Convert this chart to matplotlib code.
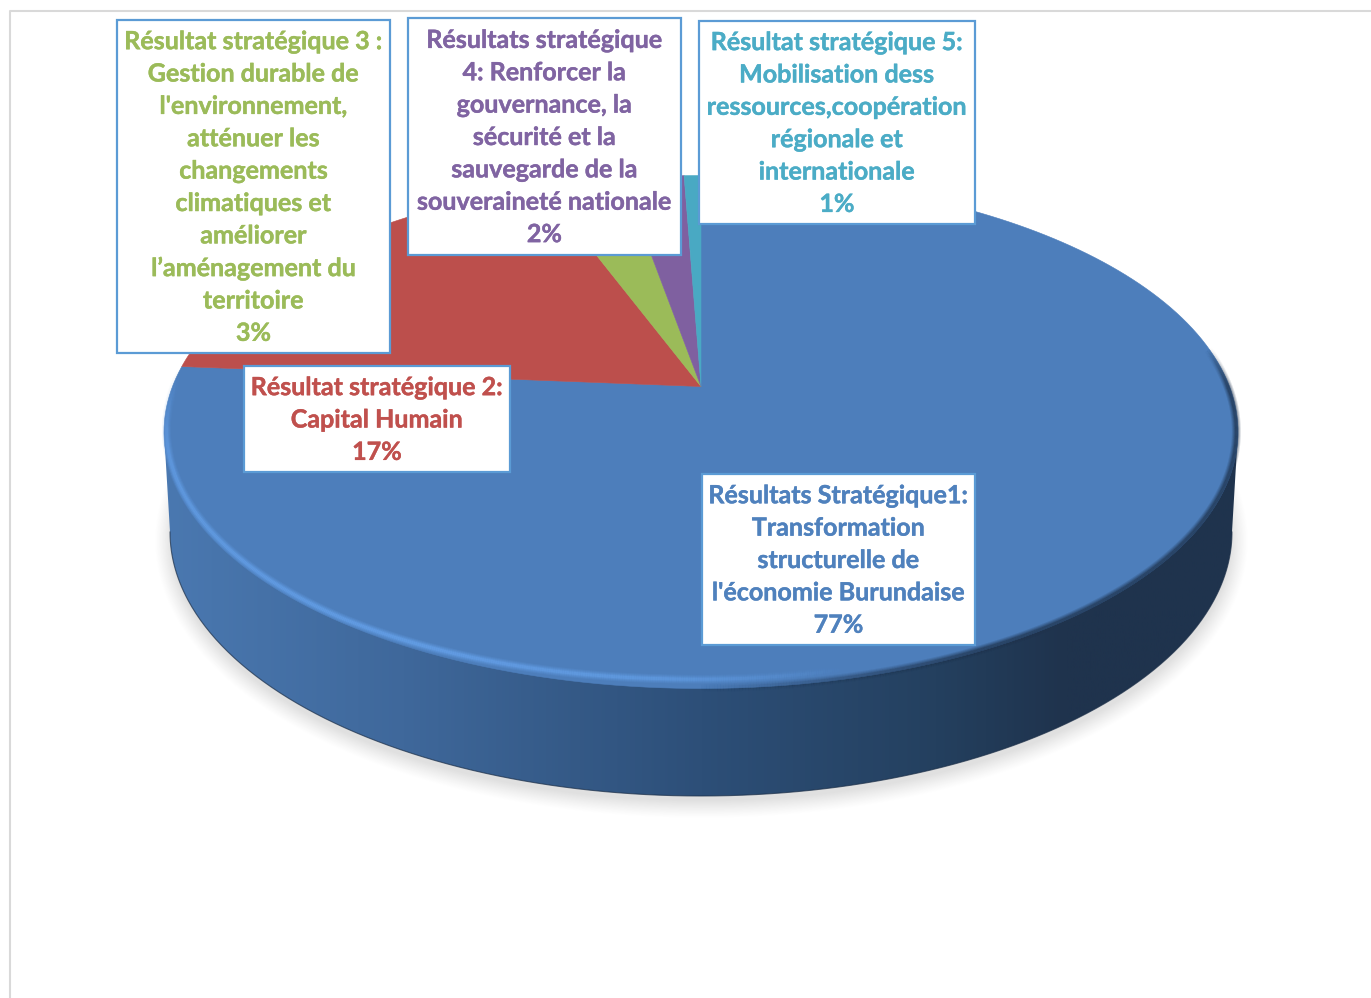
import numpy as np
import matplotlib
matplotlib.use("Agg")
import matplotlib.pyplot as plt
import matplotlib.patheffects as pe
from matplotlib.collections import LineCollection
from matplotlib.colors import LinearSegmentedColormap, to_rgb
from matplotlib.patches import Polygon, Rectangle

# Data, clockwise from 12 o'clock (slice sizes as measured on the picture)
names = ["Résultats Stratégique1", "Résultat stratégique 2", "Résultat stratégique 3",
         "Résultats stratégique 4", "Résultat stratégique 5"]
shares = [76.3, 18.0, 2.9, 2.2, 0.6]
colors = ["#4d7ebb", "#bc4f4c", "#9bbb59", "#7f60a0", "#49a9c3"]
labels = [
    "Résultats Stratégique1:\nTransformation\nstructurelle de\nl'économie Burundaise\n77%",
    "Résultat stratégique 2:\nCapital Humain\n17%",
    "Résultat stratégique 3 :\nGestion durable de\nl'environnement,\natténuer les\nchangements\nclimatiques et\naméliorer\nl’aménagement du\nterritoire\n3%",
    "Résultats stratégique\n4: Renforcer la\ngouvernance, la\nsécurité et la\nsauvegarde de la\nsouveraineté nationale\n2%",
    "Résultat stratégique 5:\nMobilisation dess\nressources,coopération\nrégionale et\ninternationale\n1%",
]
text_colors = ["#4f81bd", "#c0504d", "#9bbb59", "#8064a2", "#4bacc6"]
# label boxes: left, top, right, bottom in pixels
boxes = [(702, 474, 975, 645), (244, 366, 510, 472), (117, 20, 390, 353),
         (408, 18, 681, 255), (699, 21, 975, 224)]

# Pie geometry in pixels, the disc is tilted so its apex sits above the ellipse centre
apex_x, apex_y = 701, 386.5
big_a, big_b, persp = 528.5, 248.4, 0.1774
bot_x, bot_y, bot_a, bot_b = 701, 532, 531, 264


def disc(theta, r=1.0):
    # theta clockwise from the top of the disc, in radians
    u = r * np.sin(theta)
    v = -r * np.cos(theta)
    w = 1 - persp * v
    return apex_x + big_a * u / w, apex_y + big_b * v / w


def soft_line(x, y, rgb, alpha, zorder):
    # stacked strokes stand in for the blur on the bevel
    segs = np.stack([np.column_stack([x[:-1], y[:-1]]), np.column_stack([x[1:], y[1:]])], axis=1)
    for width, k in [(9, 0.16), (7, 0.22), (5, 0.3), (3, 0.45)]:
        cols = np.zeros((len(segs), 4))
        cols[:, :3] = rgb
        cols[:, 3] = alpha[:-1] * k
        ax.add_collection(LineCollection(segs, colors=cols, linewidths=width * 0.72,
                                         zorder=zorder, capstyle="butt"))


fig = plt.figure(figsize=(13.71, 9.98), dpi=100)
ax = fig.add_axes([0, 0, 1, 1])
ax.set_xlim(0, 1371)
ax.set_ylim(998, 0)
ax.axis("off")

# Chart frame
ax.plot([1371, 10, 10], [11, 11, 998], color="#d9d9d9", lw=1.5, zorder=1)

# Soft shadow under the pie, alpha from the approximate distance to an ellipse
xx, yy = np.meshgrid(np.arange(0, 1371), np.arange(0, 998))
sa, sb = 533.0, 264.0
sx, sy = xx - 701.0, yy - 540.0
rad = np.sqrt((sx / sa) ** 2 + (sy / sb) ** 2) + 1e-6
slope = np.sqrt((sx / sa ** 2) ** 2 + (sy / sb ** 2) ** 2) / rad + 1e-9
dist = (rad - 1) / slope
shadow = np.zeros(xx.shape + (4,))
shadow[..., :3] = 0.55
shadow[..., 3] = 0.27 * np.clip(1 - (dist + 4) / 18, 0, 1) ** 1.2
ax.imshow(shadow, extent=(0, 1371, 998, 0), zorder=2, aspect="auto")

# Side wall with a left to right gradient
t = np.linspace(0, 2 * np.pi, 721)
tx, ty = disc(t)
front = np.linspace(-np.pi / 2, np.pi / 2, 361)
fx = bot_x + bot_a * np.sin(front)
fy = bot_y + bot_b * np.cos(front)
wall_pts = np.vstack([[tx.min(), ty[np.argmin(tx)]], np.column_stack([fx, fy]),
                      [tx.max(), ty[np.argmax(tx)]]])
wall = Polygon(wall_pts, closed=True, fc="none", ec="none")
ax.add_patch(wall)
side_cmap = LinearSegmentedColormap.from_list(
    "side", [(0, "#4a78b0"), (0.22, "#3f689b"), (0.5, "#2d4f78"), (0.72, "#24405f"),
             (0.84, "#1f334d"), (1, "#1f334d")])
grad = np.linspace(0, 1, 600).reshape(1, -1)
im = ax.imshow(grad, cmap=side_cmap, extent=(165, 1238, 810, 420), zorder=3, aspect="auto")
im.set_clip_path(wall)
ax.set_xlim(0, 1371)
ax.set_ylim(998, 0)
ax.plot(fx, fy, color="#1c2f48", lw=0.8, alpha=0.7, zorder=3.5)

# Top face slices
start = 0.0
for share, col in zip(shares, colors):
    a = np.linspace(start, start + share, 200) / 100 * 2 * np.pi
    x, y = disc(a)
    pts = np.vstack([[apex_x, apex_y], np.column_stack([x, y])])
    ax.add_patch(Polygon(pts, closed=True, fc=col, ec=col, lw=0.4, zorder=4))
    start += share

# Dark blur where the face meets the wall on the right
dark_t = np.linspace(np.pi * 0.45, np.pi * 1.0, 400)
dx, dy = disc(dark_t, 0.997)
soft_line(dx, dy, to_rgb("#1f334d"),
          np.clip((np.pi * 1.0 - dark_t) / (np.pi * 0.15), 0, 1) * np.clip((dark_t - np.pi * 0.45) / (np.pi * 0.05), 0, 1),
          4.6)

# Light bevel on the rim, on the left and the front
rim_t = np.linspace(np.pi * 0.92, np.pi * 1.52, 500)
inset = np.interp(rim_t, [np.pi * 0.92, np.pi * 1.02, np.pi * 1.2, np.pi * 1.52], [0.974, 0.975, 0.99, 0.997])
rx, ry = disc(rim_t, inset)
rim_alpha = np.interp(rim_t, [np.pi * 0.92, np.pi * 1.02, np.pi * 1.15, np.pi * 1.42, np.pi * 1.52], [0, 0.75, 1, 0.8, 0])
soft_line(rx, ry, to_rgb("#69a6f0"), rim_alpha, 5)

# Labels
for (x0, y0, x1, y1), text, col in zip(boxes, labels, text_colors):
    ax.add_patch(Rectangle((x0, y0), x1 - x0, y1 - y0, fc="white", ec="#5b9bd5", lw=1.6, zorder=6))
    ax.text((x0 + x1) / 2, (y0 + y1) / 2 + 1, text, color=col, ha="center", va="center",
            family="Lato", weight="bold", fontsize=18.05, linespacing=1.493, zorder=7,
            path_effects=[pe.withStroke(linewidth=0.3, foreground=col)])

fig.savefig("out.png", dpi=100)
